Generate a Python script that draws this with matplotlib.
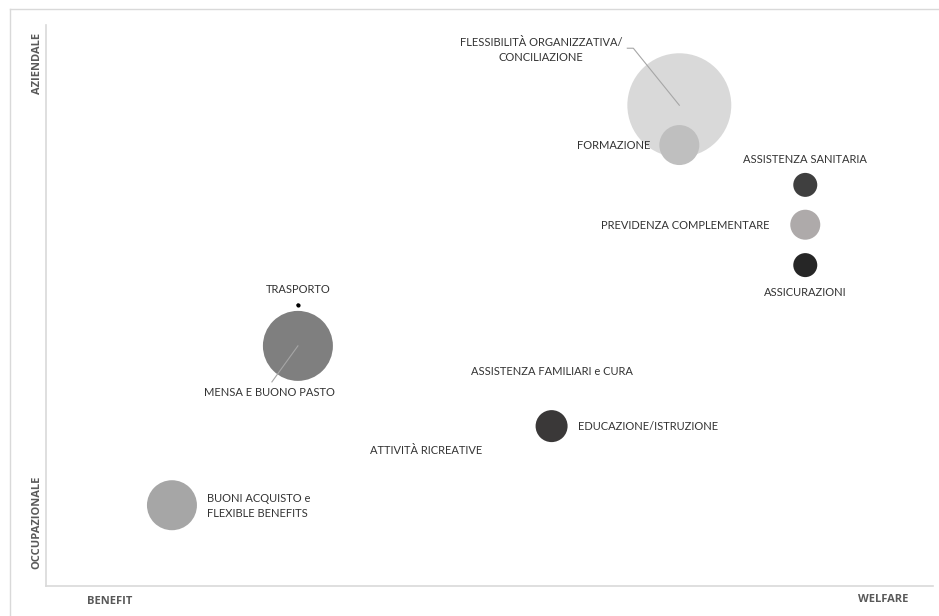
import numpy as np
import matplotlib.pyplot as plt
from matplotlib.lines import Line2D

plt.rcParams["font.family"] = ["Lato", "DejaVu Sans"]

# dati (scala 0-10 su entrambi gli assi)
voci = [
    "FLESSIBILITÀ ORGANIZZATIVA/\nCONCILIAZIONE",
    "FORMAZIONE",
    "ASSISTENZA SANITARIA",
    "PREVIDENZA COMPLEMENTARE",
    "ASSICURAZIONI",
    "TRASPORTO",
    "MENSA E BUONO PASTO",
    "ASSISTENZA FAMILIARI e CURA",
    "EDUCAZIONE/ISTRUZIONE",
    "ATTIVITÀ RICREATIVE",
    "BUONI ACQUISTO e\nFLEXIBLE BENEFITS",
]
x_welfare = [7.14, 7.14, 8.56, 8.56, 8.56, 2.84, 2.84, 5.70, 5.70, 4.28, 1.42]
y_aziendale = [8.57, 7.86, 7.15, 6.44, 5.72, 5.01, 4.28, 3.82, 2.85, 2.42, 1.44]
peso = [27.0, 4.0, 1.44, 2.25, 1.44, 0.02, 12.25, 0.0, 2.56, 0.0, 6.25]
colori = ["#d9d9d9", "#bfbfbf", "#3f3f3f", "#aeaaaa", "#262626", "#000000",
          "#7f7f7f", "#ffffff", "#3a3838", "#ffffff", "#a6a6a6"]

W, H = 939, 616
fig = plt.figure(figsize=(W / 100, H / 100), dpi=100)

# cornice leggera attorno al grafico
fig.add_artist(Line2D([10 / W, 10 / W], [0, 1 - 9 / H], color="#d9d9d9", lw=1))
fig.add_artist(Line2D([10 / W, 1], [1 - 9 / H, 1 - 9 / H], color="#d9d9d9", lw=1))

ax = fig.add_axes([46 / W, (H - 586) / H, (933 - 46) / W, (586 - 25) / H])
ax.set_xlim(0, 10)
ax.set_ylim(0, 10)
ax.set_xticks([])
ax.set_yticks([])
for side in ["top", "right"]:
    ax.spines[side].set_visible(False)
for side in ["left", "bottom"]:
    ax.spines[side].set_color("#d9d9d9")
    ax.spines[side].set_linewidth(1.2)

# area in punti^2 (1 px = 0.72 pt)
s = np.array(peso) * 100 * (2 * 0.72) ** 2
ax.scatter(x_welfare, y_aziendale, s=s, c=colori, linewidths=0, zorder=2)
ax.scatter([x_welfare[5]], [y_aziendale[5]], s=4, c="black", zorder=3)

txt = dict(fontsize=8, color="#333333", zorder=4)
dx_px = 10 / (933 - 46)
dy_px = 10 / (586 - 25)

def lab(i, ox, oy, ha="center", va="center"):
    ax.text(x_welfare[i] + ox * dx_px, y_aziendale[i] - oy * dy_px, voci[i],
            ha=ha, va=va, linespacing=1.45, **txt)

lab(0, -138, -55)
lab(1, -29, 0, ha="right")
lab(2, 0, -25)
lab(3, -36, 1, ha="right")
lab(4, 0, 27)
lab(5, 0, -15)
lab(6, -28, 47)
lab(7, 0, 0)
lab(8, 26, 0, ha="left")
lab(9, 0, 0)
lab(10, 35, 1, ha="left")

# linee guida
ax.plot([x_welfare[0] - 52 * dx_px, x_welfare[0] - 46 * dx_px, x_welfare[0]],
        [y_aziendale[0] + 57 * dy_px, y_aziendale[0] + 57 * dy_px, y_aziendale[0]],
        color="#a6a6a6", lw=0.8, zorder=3)
ax.plot([x_welfare[6] - 26 * dx_px, x_welfare[6]],
        [y_aziendale[6] - 36 * dy_px, y_aziendale[6]],
        color="#a6a6a6", lw=0.8, zorder=3)

bold = dict(fontsize=8, color="#595959", fontweight="bold", family=["Open Sans", "DejaVu Sans"])
fig.text(37 / W, 1 - 63 / H, "AZIENDALE", rotation=90, ha="center", va="center", **bold)
fig.text(37 / W, 1 - 522 / H, "OCCUPAZIONALE", rotation=90, ha="center", va="center", **bold)
fig.text(110 / W, 1 - 602 / H, "BENEFIT", ha="center", va="center", **bold)
fig.text(883 / W, 1 - 599 / H, "WELFARE", ha="center", va="center", **bold)

fig.savefig("out.png", dpi=100, facecolor="white")
